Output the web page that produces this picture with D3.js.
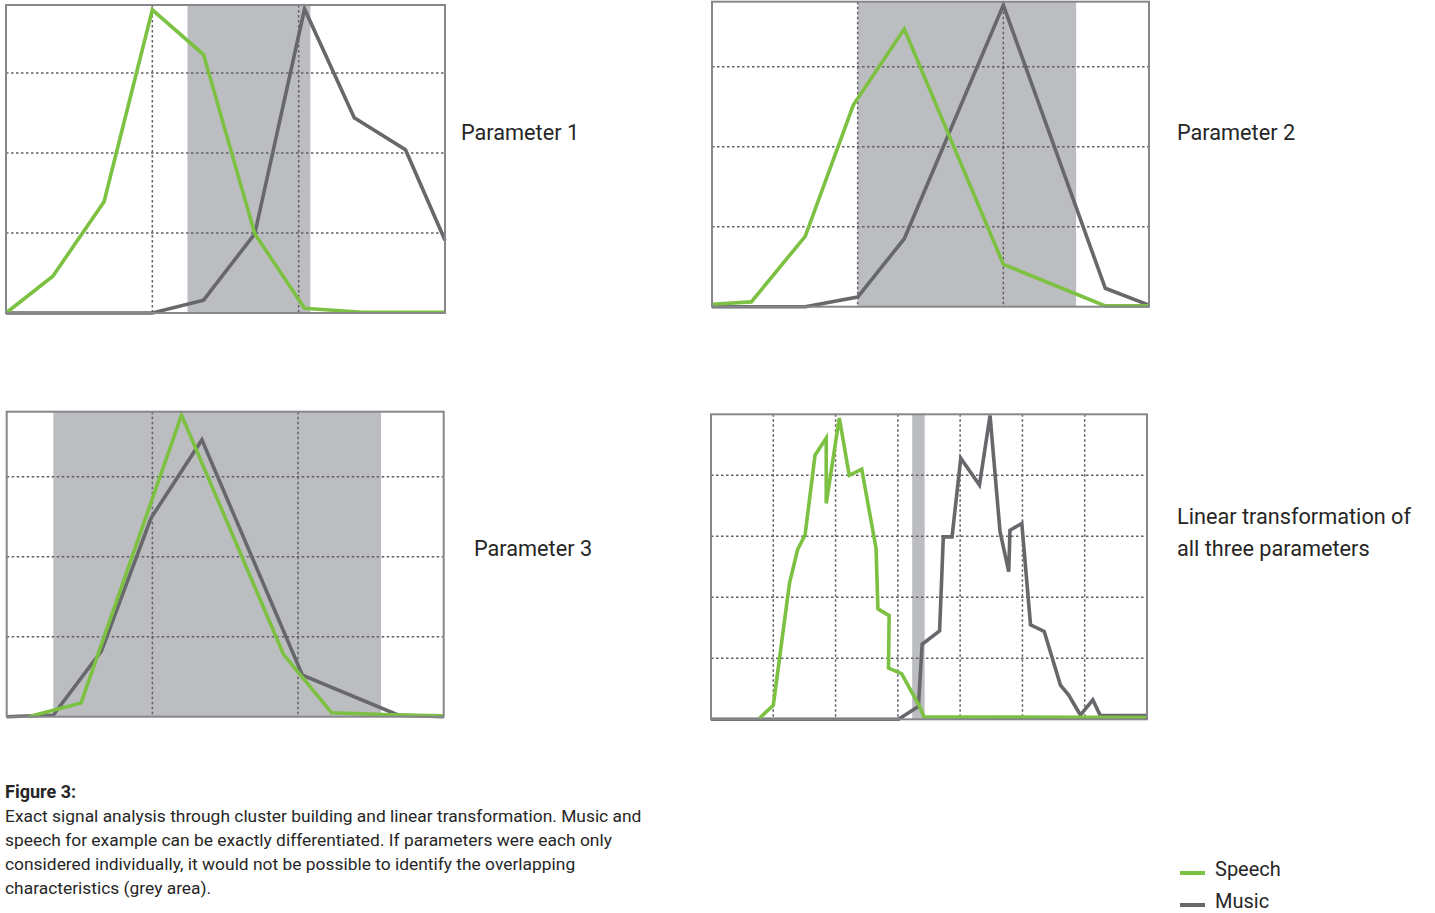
<!DOCTYPE html>
<html>
<head>
<meta charset="utf-8">
<script src="https://cdn.jsdelivr.net/npm/d3@7"></script>
<style>
  body { margin: 0; background: #fff; }
  svg { display: block; }
</style>
</head>
<body>
<div id="chart"></div>
<script>
// Values: x in grid columns, y in grid rows
const p1Speech = [[0, 0], [0.32, 0.46], [0.67, 1.39], [1.0, 3.79], [1.35, 3.23], [1.70, 0.99], [2.04, 0.06], [2.43, 0.01], [3.0, 0.01]];
const p1Music  = [[0, 0], [1.0, 0], [1.35, 0.16], [1.70, 0.99], [2.04, 3.80], [2.38, 2.44], [2.73, 2.04], [3.0, 0.91]];
const p2Speech = [[0, 0.03], [0.27, 0.06], [0.64, 0.88], [0.97, 2.52], [1.32, 3.47], [2.0, 0.53], [2.70, 0.01], [3.0, 0.01]];
const p2Music  = [[0, 0], [0.64, 0], [1.0, 0.12], [1.32, 0.85], [2.0, 3.77], [2.70, 0.23], [3.0, 0.02]];
const p3Speech = [[0.15, 0], [0.51, 0.17], [1.20, 3.77], [1.90, 0.78], [2.23, 0.05], [2.69, 0.02], [3.0, 0.01]];
const p3Music  = [[0, 0], [0.32, 0.02], [0.65, 0.82], [0.99, 2.48], [1.34, 3.46], [2.03, 0.52], [2.69, 0.02], [3.0, 0]];
const p4Speech = [[0.78, 0.02], [1.0, 0.23], [1.26, 2.23], [1.39, 2.78], [1.51, 3.02], [1.67, 4.33], [1.85, 4.61], [1.85, 3.54],
                  [2.06, 4.94], [2.22, 4.0], [2.42, 4.10], [2.65, 2.80], [2.68, 1.81], [2.86, 1.70], [2.85, 0.84], [3.06, 0.75],
                  [3.34, 0.23], [3.42, 0.04], [7.0, 0.03]];
const p4Music  = [[0, 0], [3.01, 0], [3.33, 0.21], [3.39, 1.23], [3.67, 1.45], [3.73, 2.99], [3.87, 2.99], [4.01, 4.28],
                  [4.31, 3.84], [4.48, 4.98], [4.64, 3.08], [4.78, 2.42], [4.80, 3.10], [4.99, 3.21], [5.13, 1.55], [5.35, 1.44],
                  [5.61, 0.56], [5.74, 0.40], [5.93, 0.07], [6.13, 0.32], [6.25, 0.06], [7.0, 0.06]];

// grey overlap areas [from, to] in x units
const overlapBands = [[1.24, 2.08], [1.0, 2.50], [0.32, 2.57], [3.23, 3.43]];
const panelLabels = [["Parameter 1"], ["Parameter 2"], ["Parameter 3"], ["Linear transformation of", "all three parameters"]];
const legendItems = ["Speech", "Music"];
const captionTitle = "Figure 3:";
const captionLines = [
  "Exact signal analysis through cluster building and linear transformation. Music and",
  "speech for example can be exactly differentiated. If parameters were each only",
  "considered individually, it would not be possible to identify the overlapping",
  "characteristics (grey area)."
];

const width = 1435, height = 913;
const colors = { speech: "#7cc142", music: "#67686b", band: "#bcbdc1", frame: "#86878a", grid: "#606165", text: "#262626" };
const font = "Roboto, 'Open Sans', sans-serif";

const panels = [
  { x: 6,   y: 5,     w: 439, h: 308, cols: 3, rows: 308 / 80, speech: p1Speech, music: p1Music, label: [461, 132] },
  { x: 712, y: 1.7,   w: 437, h: 305, cols: 3, rows: 305 / 80, speech: p2Speech, music: p2Music, label: [1177, 132] },
  { x: 6.7, y: 411.7, w: 437, h: 305, cols: 3, rows: 305 / 80, speech: p3Speech, music: p3Music, label: [474, 548] },
  { x: 711, y: 414.3, w: 436, h: 305, cols: 7, rows: 5,        speech: p4Speech, music: p4Music, label: [1177, 516] }
];

const svg = d3.select("#chart").append("svg")
  .attr("width", width)
  .attr("height", height);

panels.forEach((p, i) => {
  const g = svg.append("g").attr("transform", `translate(${p.x},${p.y})`);
  const x = d3.scaleLinear().domain([0, p.cols]).range([0, p.w]);
  const y = d3.scaleLinear().domain([0, p.rows]).range([p.h, 0]);

  g.append("rect")
    .attr("width", p.w).attr("height", p.h)
    .attr("fill", "#fff");

  const band = overlapBands[i];
  g.append("rect")
    .attr("x", x(band[0]))
    .attr("width", x(band[1]) - x(band[0]))
    .attr("y", 0).attr("height", p.h)
    .attr("fill", colors.band);

  // dotted grid
  const xTicks = d3.range(1, p.cols);
  const yTicks = d3.range(1, Math.ceil(p.rows));
  g.append("g")
    .selectAll("line")
    .data(xTicks)
    .enter().append("line")
    .attr("x1", d => x(d)).attr("x2", d => x(d))
    .attr("y1", 0).attr("y2", p.h)
    .attr("stroke", colors.grid).attr("stroke-width", 1.5)
    .attr("stroke-dasharray", "2.5,2.5");
  g.append("g")
    .selectAll("line")
    .data(yTicks)
    .enter().append("line")
    .attr("x1", 0).attr("x2", p.w)
    .attr("y1", d => y(d)).attr("y2", d => y(d))
    .attr("stroke", colors.grid).attr("stroke-width", 1.5)
    .attr("stroke-dasharray", "2.5,2.5");

  const line = d3.line().x(d => x(d[0])).y(d => y(d[1]));

  g.append("path")
    .datum(p.music)
    .attr("d", line)
    .attr("fill", "none")
    .attr("stroke", colors.music)
    .attr("stroke-width", 3.6);

  g.append("path")
    .datum(p.speech)
    .attr("d", line)
    .attr("fill", "none")
    .attr("stroke", colors.speech)
    .attr("stroke-width", 3.6);

  g.append("rect")
    .attr("width", p.w).attr("height", p.h)
    .attr("fill", "none")
    .attr("stroke", colors.frame)
    .attr("stroke-width", 2);

  svg.append("g")
    .selectAll("text")
    .data(panelLabels[i])
    .enter().append("text")
    .attr("x", p.label[0])
    .attr("y", (d, k) => p.label[1] + k * 32)
    .attr("dy", "0.35em")
    .attr("font-family", font)
    .attr("font-size", 21.7)
    .attr("font-weight", 400)
    .attr("fill", colors.text)
    .text(d => d);
});

// caption
svg.append("text")
  .attr("x", 5).attr("y", 792).attr("dy", "0.35em")
  .attr("font-family", font).attr("font-size", 18).attr("font-weight", 700)
  .attr("fill", colors.text)
  .text(captionTitle);

svg.append("g")
  .selectAll("text")
  .data(captionLines)
  .enter().append("text")
  .attr("x", 5)
  .attr("y", (d, i) => 816 + i * 24)
  .attr("dy", "0.35em")
  .attr("font-family", font)
  .attr("font-size", 17.4)
  .attr("font-weight", 400)
  .attr("fill", colors.text)
  .text(d => d);

// legend
const legendColors = [colors.speech, colors.music];
const legend = svg.append("g")
  .selectAll("g")
  .data(legendItems)
  .enter().append("g")
  .attr("transform", (d, i) => `translate(1180,${869 + i * 32})`);

legend.append("line")
  .attr("x1", 0).attr("x2", 25)
  .attr("y1", 4).attr("y2", 4)
  .attr("stroke", (d, i) => legendColors[i])
  .attr("stroke-width", 4);

legend.append("text")
  .attr("x", 35).attr("y", 0).attr("dy", "0.35em")
  .attr("font-family", font)
  .attr("font-size", 20)
  .attr("font-weight", 400)
  .attr("fill", colors.text)
  .text(d => d);
</script>
</body>
</html>
